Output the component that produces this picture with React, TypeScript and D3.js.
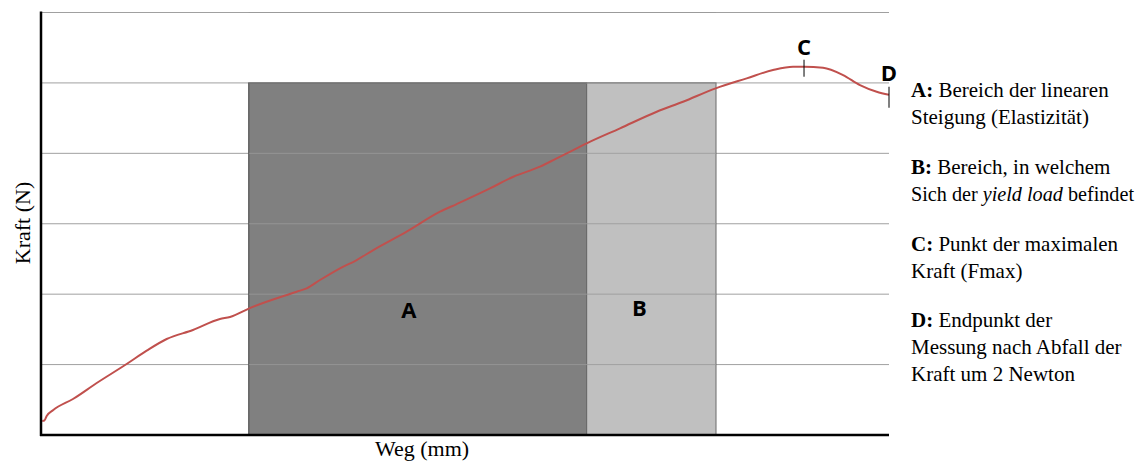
import React from "react";
import * as d3 from "d3";

// Weg (arbitrary units 0..100) and Kraft (0..60)
const wegValues = [0.15, 0.4, 0.67, 1.45, 3.77, 6.57, 10.1, 12.46, 14.82, 17.92, 21.1, 22.29, 24.56, 30.15, 31.33, 32.9, 35.26, 37.23, 39.19, 43.12, 47.05, 49.02, 52.95, 55.7, 58.84, 60.81, 62.77, 64.35, 68.28, 72.61, 75.71, 79.56, 83.22, 86.32, 88.68, 89.98, 92.22, 94.58, 96.58, 98.55, 100];
const kraftValues = [2.0, 2.05, 2.7, 3.55, 5.11, 7.38, 10.08, 11.97, 13.63, 14.91, 16.47, 16.76, 17.99, 20.35, 20.83, 22.01, 23.67, 24.85, 26.27, 28.87, 31.71, 32.8, 35.03, 36.68, 38.1, 39.29, 40.47, 41.42, 43.55, 45.91, 47.33, 49.23, 50.65, 51.83, 52.3, 52.3, 52.16, 51.12, 49.7, 48.75, 48.32];

const gridValues = [0, 10, 20, 30, 40, 50, 60];

const regionLabels = ["A", "B"];
const regionStart = [24.5, 64.35];
const regionEnd = [64.35, 79.6];
const regionTop = [50, 50];
const regionFill = ["#808080", "#c0c0c0"];

const pointLabels = ["C", "D"];
const pointWeg = [89.98, 100];
const pointKraft = [52.3, 48.32];

const xAxisTitle = "Weg (mm)";
const yAxisTitle = "Kraft (N)";

const legendBlocks: { bold: string; lines: (string | { parts: { t: string; italic?: boolean }[] })[] }[] = [
  { bold: "A:", lines: [" Bereich der linearen", "Steigung (Elastizität)"] },
  { bold: "B:", lines: [" Bereich, in welchem", { parts: [{ t: "Sich der " }, { t: "yield load", italic: true }, { t: " befindet" }] }] },
  { bold: "C:", lines: [" Punkt der maximalen", "Kraft (Fmax)"] },
  { bold: "D:", lines: [" Endpunkt der", "Messung nach Abfall der", "Kraft um 2 Newton"] },
];

export default function App() {
  const W = 1141, H = 462;
  const left = 41, right = 889, top = 12.5, bottom = 435;
  const x = d3.scaleLinear().domain([0, 100]).range([left, right]);
  const y = d3.scaleLinear().domain([0, 60]).range([bottom, top]);

  const pts: [number, number][] = wegValues.map((w, i) => [w, kraftValues[i]]);
  const line = d3.line<[number, number]>().x(d => x(d[0])).y(d => y(d[1])).curve(d3.curveMonotoneX);

  const serif = "'Liberation Serif', 'Times New Roman', serif";
  const sans = "'Open Sans', 'Noto Sans', sans-serif";

  const blockStarts = [97, 173.5, 250.5, 327];
  const lineGap = 27;
  const labelOffset = [-9, -12];

  return (
    <svg width={W} height={H} style={{ position: "absolute", left: 0, top: 0, background: "#fff" }}>
      <rect x={0} y={0} width={W} height={H} fill="#fff" />
      {gridValues.slice(1).map(g => (
        <line key={"g" + g} x1={left} x2={right} y1={y(g)} y2={y(g)} stroke="#a0a0a0" strokeWidth={1} />
      ))}
      {regionLabels.map((r, i) => (
        <rect key={r} x={x(regionStart[i])} y={y(regionTop[i])} width={x(regionEnd[i]) - x(regionStart[i])} height={y(0) - y(regionTop[i])}
          fill={regionFill[i]} stroke={i === 0 ? "#404040" : "#6a6a6a"} strokeWidth={1} />
      ))}
      {gridValues.slice(1).map(g => (
        <line key={"go" + g} x1={x(regionStart[0])} x2={x(regionEnd[1])} y1={y(g)} y2={y(g)} stroke="#9a9a9a" strokeWidth={1} opacity={0.8} />
      ))}
      {regionLabels.map((r, i) => (
        <text key={"t" + r} x={(x(regionStart[i]) + x(regionEnd[i])) / 2 + labelOffset[i]} y={i === 0 ? 318 : 316} textAnchor="middle"
          fontFamily={sans} fontWeight="bold" fontSize={22} fill="#000">{r}</text>
      ))}
      <path d={line(pts) || ""} fill="none" stroke="#c0504d" strokeWidth={2} />
      {pointLabels.map((p, i) => (
        <g key={p}>
          <line x1={x(pointWeg[i])} x2={x(pointWeg[i])} y1={y(pointKraft[i]) - (i === 0 ? 7 : 8)} y2={y(pointKraft[i]) + (i === 0 ? 10 : 13)} stroke="#000" strokeWidth={1} />
          <text x={x(pointWeg[i])} y={y(pointKraft[i]) - (i === 0 ? 12 : 14)} textAnchor="middle" fontFamily={sans} fontWeight="bold" fontSize={22} fill="#000">{p}</text>
        </g>
      ))}
      <line x1={left} x2={left} y1={top - 1} y2={bottom + 1} stroke="#000" strokeWidth={2.5} />
      <line x1={left - 1} x2={right} y1={bottom} y2={bottom} stroke="#000" strokeWidth={2.5} />
      <text x={422} y={456} textAnchor="middle" fontFamily={serif} fontSize={22} fill="#000">{xAxisTitle}</text>
      <text transform={`translate(30,223) rotate(-90)`} textAnchor="middle" fontFamily={serif} fontSize={22} fill="#000">{yAxisTitle}</text>
      {legendBlocks.map((b, bi) => (
        <g key={b.bold}>
          {b.lines.map((ln, li) => (
            <text key={li} x={911} y={blockStarts[bi] + li * lineGap} fontFamily={serif} fontSize={21} fill="#000"
              {...(typeof ln === "string" ? {} : { textLength: 223, lengthAdjust: "spacingAndGlyphs" })}>
              {li === 0 && <tspan fontWeight="bold">{b.bold}</tspan>}
              {typeof ln === "string" ? ln : ln.parts.map((pt, k) => (
                <tspan key={k} fontStyle={pt.italic ? "italic" : "normal"}>{pt.t}</tspan>
              ))}
            </text>
          ))}
        </g>
      ))}
    </svg>
  );
}
